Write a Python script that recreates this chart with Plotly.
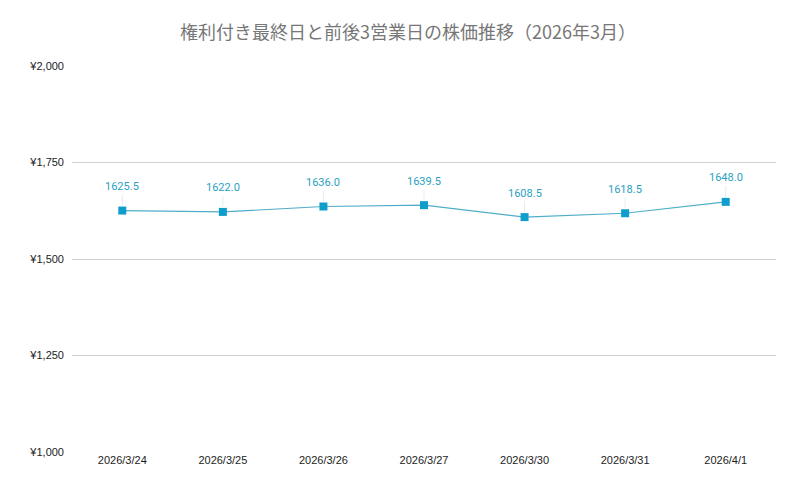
import plotly.graph_objects as go

# data
dates = ["2026/3/24", "2026/3/25", "2026/3/26", "2026/3/27", "2026/3/30", "2026/3/31", "2026/4/1"]
prices = [1625.5, 1622.0, 1636.0, 1639.5, 1608.5, 1618.5, 1648.0]
price_labels = ["%.1f" % p for p in prices]
y_ticks = [1000, 1250, 1500, 1750, 2000]
y_tick_labels = ["¥1,000", "¥1,250", "¥1,500", "¥1,750", "¥2,000"]

fig = go.Figure()

fig.add_trace(go.Scatter(x = dates, y = prices, mode = "lines+markers",
                         line = dict(color = "#4fadc9", width = 1.2),
                         marker = dict(symbol = "square", size = 8, color = "#0f9dcc"),
                         cliponaxis = False, showlegend = False))

# value labels with faint leader lines
for d, p, t in zip(dates, prices, price_labels):
  fig.add_annotation(x = d, y = p, text = t, showarrow = True, arrowhead = 0,
                     arrowwidth = 1, arrowcolor = "#e3eef2", ax = 0, ay = -24, standoff = 5,
                     font = dict(size = 11, color = "#2a9fc2", family = "Roboto"))

fig.update_layout(
  title = dict(text = "権利付き最終日と前後3営業日の株価推移（2026年3月）",
               x = 0.5, xanchor = "center", y = 0.962,
               font = dict(size = 18, color = "#777777", family = "Noto Sans CJK JP")),
  width = 800, height = 494,
  margin = dict(l = 64, r = 32, t = 58, b = 50),
  plot_bgcolor = "white", paper_bgcolor = "white",
  font = dict(family = "Liberation Sans", size = 11, color = "#222222"),
  xaxis = dict(type = "category", range = [-0.5, 6.5], showgrid = False, showline = False,
               ticks = "", tickfont = dict(size = 11, color = "#222222")),
  yaxis = dict(range = [1000, 2000], tickvals = y_ticks, ticktext = y_tick_labels,
               gridcolor = "#d0d0d0", gridwidth = 1,
               zeroline = False, showline = False, ticks = "", ticklabelstandoff = 7,
               tickfont = dict(size = 11, color = "#222222")),
)

fig.write_html("out.html")
